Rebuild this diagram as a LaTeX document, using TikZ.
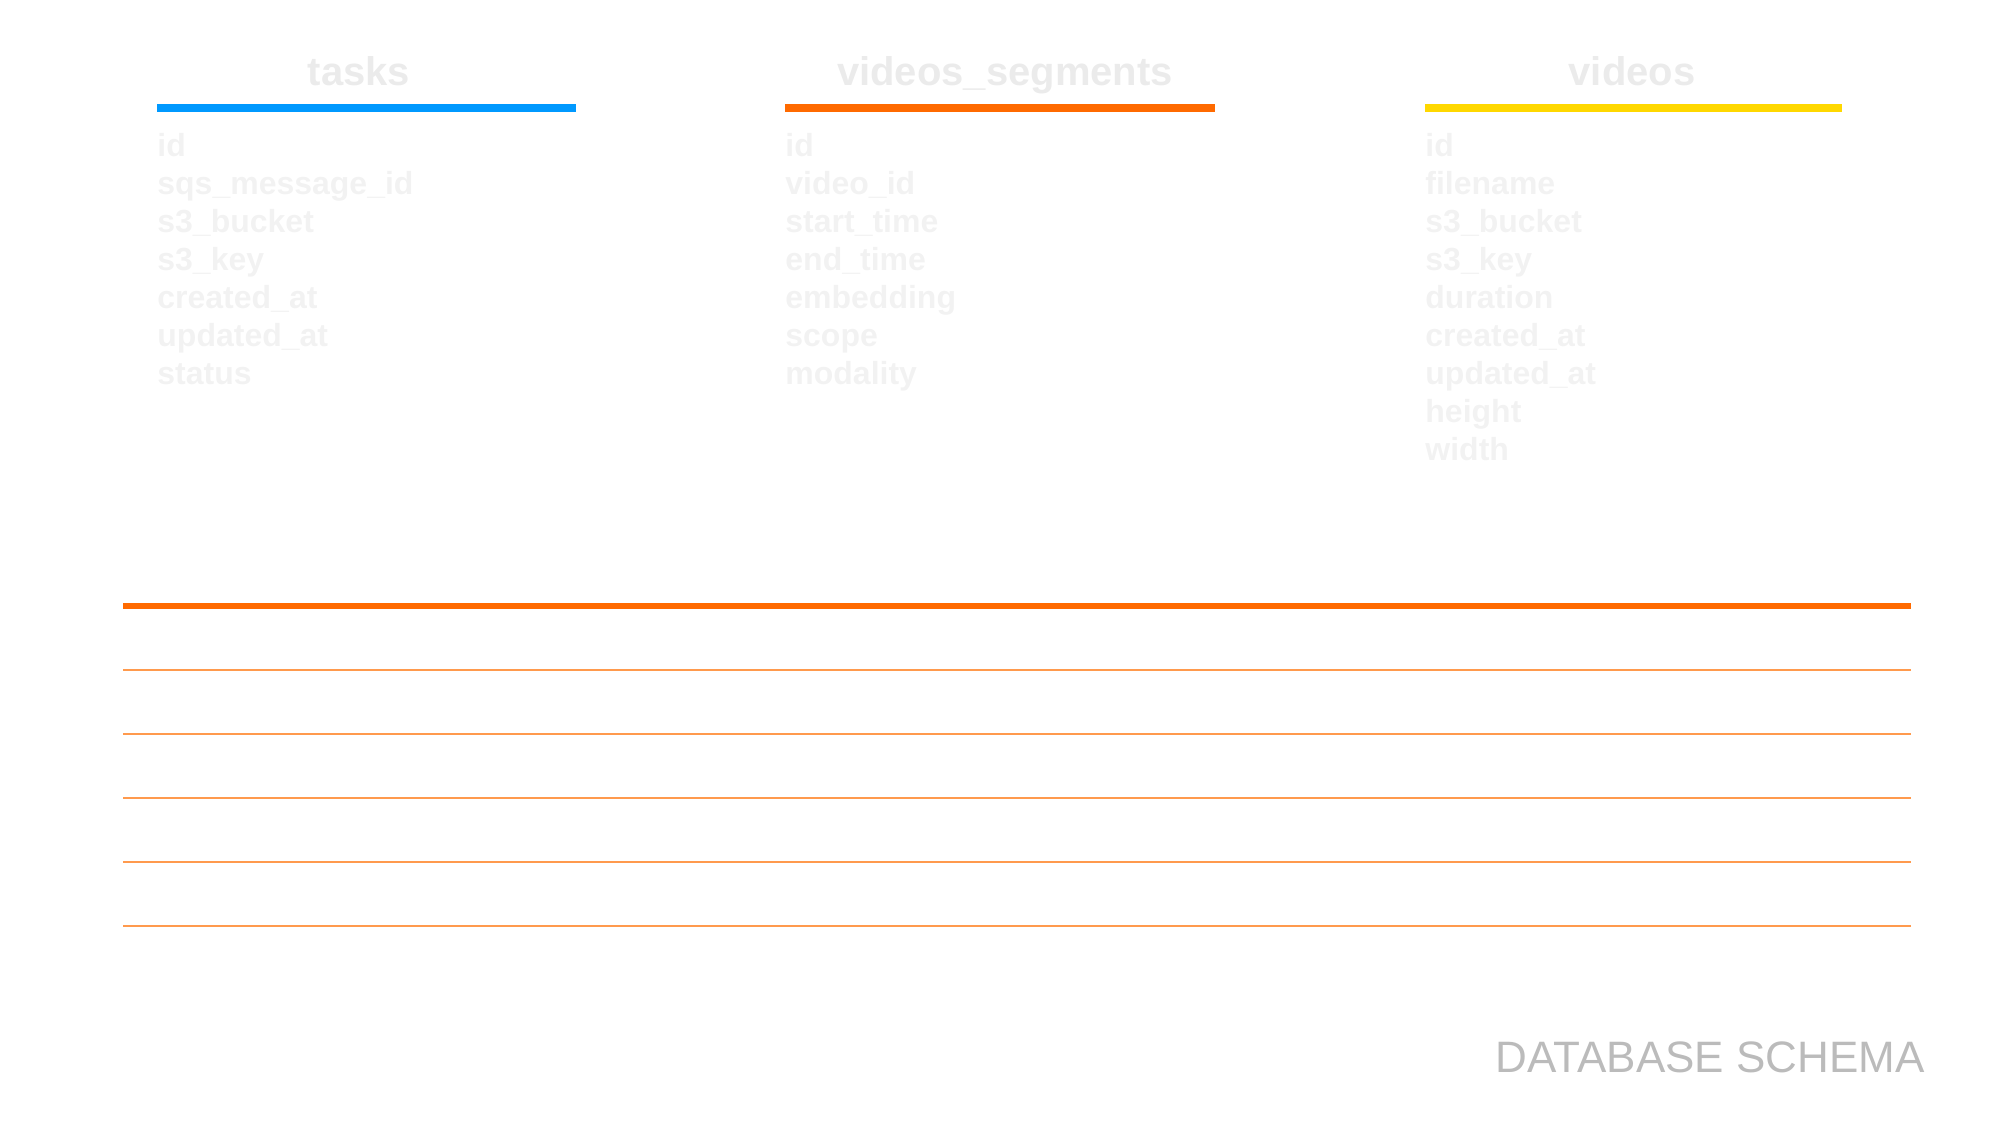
\documentclass[tikz,border=0pt]{standalone}
\usepackage{fontspec}
\setmainfont{Liberation Sans}
\definecolor{taskblue}{HTML}{0099FF}
\definecolor{segorange}{HTML}{FF6A00}
\definecolor{videoyellow}{HTML}{FFD800}
\definecolor{rowline}{HTML}{FF9A4D}
\definecolor{titlegray}{HTML}{EBEBEB}
\definecolor{fieldgray}{HTML}{F2F2F2}
\definecolor{labelgray}{HTML}{BBBBBB}
\tikzset{
  tabletitle/.style={font=\fontsize{20pt}{24pt}\selectfont\bfseries,text=titlegray,inner sep=0pt,anchor=base},
  field/.style={font=\fontsize{16pt}{20pt}\selectfont\bfseries,text=fieldgray,inner sep=0pt,anchor=base west},
  headbar/.style={line width=4pt},
  rowrule/.style={rowline,line width=0.75pt}
}
\begin{document}
\begin{tikzpicture}[x=0.5pt,y=-0.5pt]
\useasboundingbox (0,0) rectangle (2000,1125);
% table headers
\node[tabletitle] (tasks) at (359,85) {tasks};
\node[tabletitle] (segments) at (1005,85) {videos\_segments};
\node[tabletitle] (videos) at (1632,85) {videos};
\draw[headbar,taskblue] (157,108) -- (576,108);
\draw[headbar,segorange] (785,108) -- (1215,108);
\draw[headbar,videoyellow] (1425,108) -- (1842,108);
% columns
\foreach \f [count=\i from 0] in {id,sqs\_message\_id,s3\_bucket,s3\_key,created\_at,updated\_at,status}
  \node[field] (tasks-\i) at (157,156+38*\i) {\f};
\foreach \f [count=\i from 0] in {id,video\_id,start\_time,end\_time,embedding,scope,modality}
  \node[field] (segments-\i) at (785,156+38*\i) {\f};
\foreach \f [count=\i from 0] in {id,filename,s3\_bucket,s3\_key,duration,created\_at,updated\_at,height,width}
  \node[field] (videos-\i) at (1425,156+38*\i) {\f};
% rows
\draw[segorange,line width=3pt] (123,606) -- (1911,606);
\foreach \y in {670,734,798,862,926}
  \draw[rowrule] (123,\y) -- (1911,\y);
\node[font=\fontsize{22pt}{26pt}\selectfont,text=labelgray,inner sep=0pt,anchor=base east] (schema) at (1925,1072) {DATABASE SCHEMA};
\end{tikzpicture}
\end{document}
